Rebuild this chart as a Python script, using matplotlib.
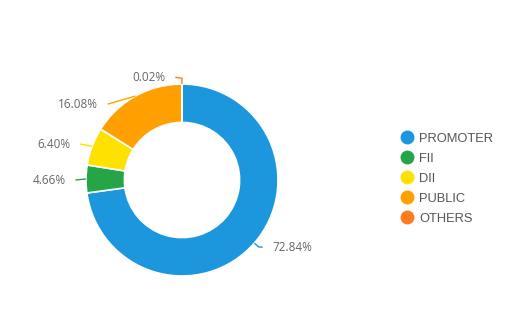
import matplotlib.pyplot as plt
from matplotlib.lines import Line2D
import numpy as np

categories = ['PROMOTER', 'FII', 'DII', 'PUBLIC', 'OTHERS']
shares = [72.84, 4.66, 6.40, 16.08, 0.02]
colors = ['#1c97de', '#24a548', '#ffe100', '#ffa000', '#ff7b1c']

# where each percentage label sits, in units of the outer radius
label_pos = [(0.94, -0.70), (-1.21, 0.0), (-1.16, 0.375), (-0.875, 0.79), (-0.17, 1.07)]

fig = plt.figure(figsize=(5.19, 3.15), dpi=100)
ax = fig.add_axes([0, 0, 1, 1])
wedges, _ = ax.pie(shares, colors=colors, startangle=90, counterclock=False, radius=1.0,
                   wedgeprops=dict(width=0.4, edgecolor='white', linewidth=1.2))

# leader lines + labels
for i, (w, val, (tx, ty), c) in enumerate(zip(wedges, shares, label_pos, colors)):
    ang = np.deg2rad((w.theta1 + w.theta2) / 2)
    x0, y0 = np.cos(ang), np.sin(ang)
    side = 1 if tx > 0 else -1
    ex = tx - side * 0.1
    if i in (0, 4):
        # little bent lines for the first and last slice
        xs, ys = [x0, 1.06 * x0, ex], [y0, 1.06 * y0, ty]
    else:
        xs, ys = [x0, ex], [y0, ty]
    ax.plot(xs, ys, color=c, lw=1, solid_capstyle='butt')
    ax.text(tx, ty, '{:.2f}%'.format(val), ha='left' if side > 0 else 'right', va='center',
            fontsize=8.5, color='#666666', family='Open Sans')

ax.set_xlim(-182 / 96, 337 / 96)
ax.set_ylim(-135 / 96, 180 / 96)
ax.set_aspect('auto')
ax.axis('off')

handles = [Line2D([], [], marker='o', color=c, linestyle='', markersize=9) for c in colors]
ax.legend(handles, categories, loc='upper left', bbox_to_anchor=(395 / 519, 1 - 126 / 315),
          bbox_transform=fig.transFigure, frameon=False, borderpad=0, handlelength=0.8,
          handletextpad=0.55, labelspacing=0.62, labelcolor='#555555',
          prop={'family': 'Liberation Sans', 'size': 9.3})

fig.savefig('out.png', dpi=100)
